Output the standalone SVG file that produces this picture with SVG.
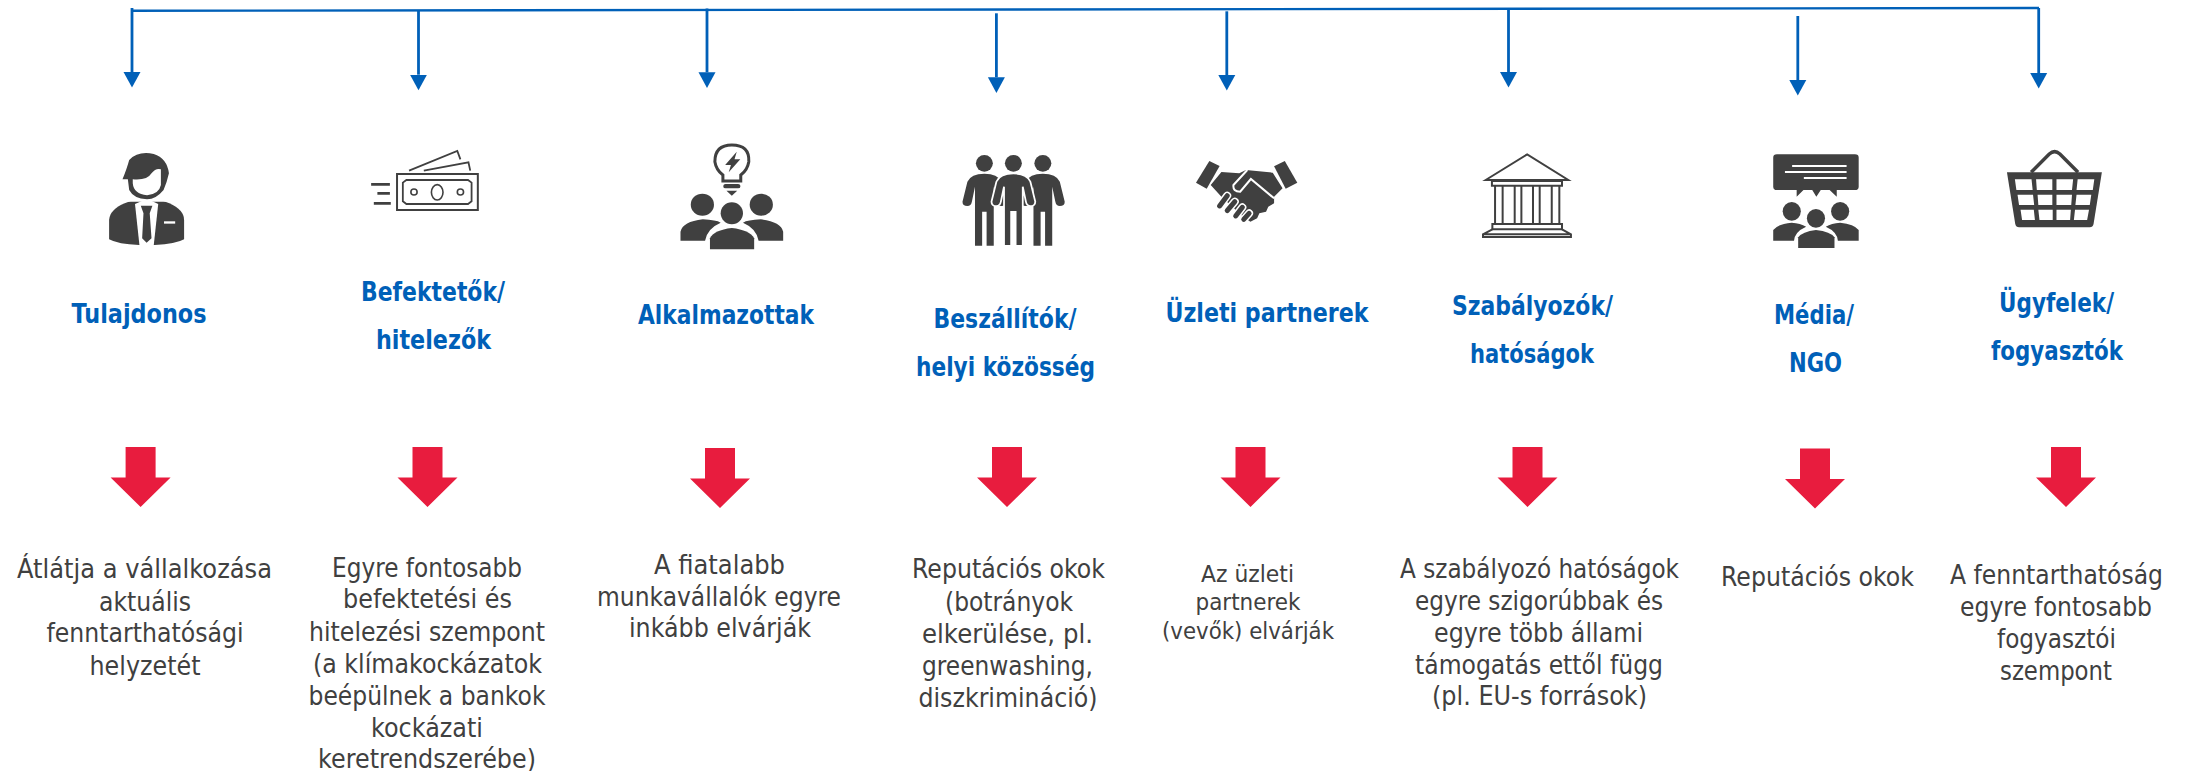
<svg xmlns="http://www.w3.org/2000/svg" xmlns:xlink="http://www.w3.org/1999/xlink" width="2193" height="771" viewBox="0 0 2193 771">
<style>
text{font-family:"DejaVu Sans","Liberation Sans",sans-serif;text-anchor:middle}
.d{font-size:26px;fill:#404040}
.s{font-size:23px}
.l{font-size:26px;font-weight:700;fill:#0060B8}
.c{stroke:#0060B8;stroke-width:2.8;fill:none;marker-end:url(#h)}
.i{fill:#404040}
.o{fill:none;stroke:#404040;stroke-width:2.4;vector-effect:non-scaling-stroke}
.w{fill:#fff}
.ws{fill:none;stroke:#fff;stroke-width:2;vector-effect:non-scaling-stroke}
.r{fill:#E81C3E}
</style>
<defs>
<marker id="h" markerUnits="userSpaceOnUse" markerWidth="17" markerHeight="18" refX="0" refY="9" orient="auto"><path d="M0 0.500L15.600 9L0 17.500Z" fill="#0060B8"/></marker>
<path id="ra" d="M-15 0H15V30.500H30L0 60L-30 30.500H-15Z"/>
<path id="fig" d="M0 521Q30 521 38 545L49 605Q49 618 38 618Q30 618 28 605L21 560V737H5V635H-5V737H-21V560L-28 605Q-30 618-38 618Q-49 618-49 605L-38 545Q-30 521 0 521Z"/>
</defs>
<rect width="2193" height="771" fill="#fff"/>
<g id="connectors">
<path d="M131 10.800L2039 8" fill="none" stroke="#0060B8" stroke-width="2.400"/>
<path class="c" d="M132 8V72"/>
<path class="c" d="M418.500 10V74.700"/>
<path class="c" d="M707 8.500V72.300"/>
<path class="c" d="M996.400 13.300V77.300"/>
<path class="c" d="M1226.800 11.300V75"/>
<path class="c" d="M1508.500 8.300V72"/>
<path class="c" d="M1797.800 16V80"/>
<path class="c" d="M2038.700 8V73"/>
</g>
<g id="tulajdonos">
<g transform="translate(60 0) scale(.4464 .3333)">
<path class="i" d="M110 660Q112 628 145 610L172 596H218L245 610Q278 630 278 660V718Q260 732 212 735H177Q130 733 110 718Z"/>
<path class="w" d="M168 612L178 736H210L220 612L195 596Z"/>
<path class="i" d="M181 617H207L201 640L205 715L194 728L184 715L187 640Z"/>
<rect class="w" x="233" y="664" width="25" height="7"/>
<path class="w" d="M150 590H240V605H150Z"/>
<path class="i" d="M140 538Q150 505 155 480Q175 452 210 462Q240 475 244 520Q240 545 232 570Q215 598 195 598Q165 596 155 570L152 538Z"/>
<path class="w" d="M163 538Q195 542 205 520Q215 503 226 508V555Q222 582 195 586Q165 582 163 550Z"/>
</g>
<text class="l" x="139" y="323" textLength="135" lengthAdjust="spacingAndGlyphs">Tulajdonos</text>
<use xlink:href="#ra" class="r" transform="translate(140.600 447)"/>
<text class="d" x="144.500" y="578" textLength="255" lengthAdjust="spacingAndGlyphs">Átlátja a vállalkozása</text>
<text class="d" x="145" y="611" textLength="92" lengthAdjust="spacingAndGlyphs">aktuális</text>
<text class="d" x="145" y="642" textLength="197" lengthAdjust="spacingAndGlyphs">fenntarthatósági</text>
<text class="d" x="145" y="675" textLength="111" lengthAdjust="spacingAndGlyphs">helyzetét</text>
</g>
<g id="befektetok">
<g transform="translate(60 0) scale(.4464 .3333)">
<rect class="o" x="755" y="522" width="181" height="108" style="stroke-width:2"/>
<path class="o" d="M776 540H914L922 548V604L914 612H776L768 604V548Z" style="stroke-width:1.800"/>
<ellipse class="o" cx="845" cy="577" rx="13" ry="23" style="stroke-width:1.600"/>
<ellipse class="o" cx="793" cy="576" rx="7" ry="9" style="stroke-width:1.600"/>
<ellipse class="o" cx="897" cy="576" rx="7" ry="9" style="stroke-width:1.600"/>
<path class="o" d="M782 512L890 453L897 478M815 512L915 487L919 512" style="stroke-width:1.800"/>
<path class="i" d="M697 549H739V557H697ZM711 576H739V584H711ZM703 606H741V614H703Z"/>
</g>
<text class="l" x="433" y="301" textLength="144" lengthAdjust="spacingAndGlyphs">Befektetők/</text>
<text class="l" x="433.500" y="349" textLength="115" lengthAdjust="spacingAndGlyphs">hitelezők</text>
<use xlink:href="#ra" class="r" transform="translate(427.500 447)"/>
<text class="d" x="427" y="577" textLength="190" lengthAdjust="spacingAndGlyphs">Egyre fontosabb</text>
<text class="d" x="427.500" y="608" textLength="169" lengthAdjust="spacingAndGlyphs">befektetési és</text>
<text class="d" x="427" y="641" textLength="236" lengthAdjust="spacingAndGlyphs">hitelezési szempont</text>
<text class="d" x="427.500" y="673" textLength="229" lengthAdjust="spacingAndGlyphs">(a klímakockázatok</text>
<text class="d" x="427" y="705" textLength="237" lengthAdjust="spacingAndGlyphs">beépülnek a bankok</text>
<text class="d" x="427" y="737" textLength="112" lengthAdjust="spacingAndGlyphs">kockázati</text>
<text class="d" x="427" y="768" textLength="218" lengthAdjust="spacingAndGlyphs">keretrendszerébe)</text>
</g>
<g id="alkalmazottak">
<g transform="translate(60 0) scale(.4464 .3333)">
<path class="o" d="M1505 435Q1545 435 1543 485Q1540 510 1525 525V543H1485V525Q1470 510 1467 485Q1467 435 1505 435Z" style="stroke-width:3"/>
<path class="i" d="M1516 455L1490 495H1503L1498 517L1524 478H1511Z"/>
<rect class="i" x="1486" y="552" width="38" height="13" rx="5"/>
<path class="i" d="M1493 572H1517L1505 587Z"/>
<ellipse class="i" cx="1439" cy="614" rx="26" ry="33"/>
<ellipse class="i" cx="1571" cy="614" rx="26" ry="33"/>
<ellipse class="i" cx="1505" cy="640" rx="25" ry="33"/>
<path class="i" d="M1390 722V695Q1395 665 1440 658Q1470 660 1480 668Q1450 685 1445 722Z"/>
<path class="i" d="M1620 722V695Q1615 665 1570 658Q1540 660 1530 668Q1560 685 1565 722Z"/>
<path class="i" d="M1456 748V715Q1465 690 1505 684Q1545 690 1555 715V748Z"/>
</g>
<text class="l" x="726" y="324" textLength="176" lengthAdjust="spacingAndGlyphs">Alkalmazottak</text>
<use xlink:href="#ra" class="r" transform="translate(720 448)"/>
<text class="d" x="719.500" y="574" textLength="131" lengthAdjust="spacingAndGlyphs">A fiatalabb</text>
<text class="d" x="719" y="606" textLength="244" lengthAdjust="spacingAndGlyphs">munkavállalók egyre</text>
<text class="d" x="720" y="637" textLength="182" lengthAdjust="spacingAndGlyphs">inkább elvárják</text>
</g>
<g id="beszallitok">
<g transform="translate(900 0) scale(.4464 .3333)">
<ellipse class="i" cx="189" cy="490" rx="19" ry="25"/>
<ellipse class="i" cx="254" cy="490" rx="19" ry="25"/>
<ellipse class="i" cx="320" cy="490" rx="19" ry="25"/>
<use xlink:href="#fig" class="i" x="189"/>
<use xlink:href="#fig" class="i" x="320"/>
<use xlink:href="#fig" x="254" fill="#404040" stroke="#fff" stroke-width="4"/>
</g>
<text class="l" x="1005" y="328" textLength="143" lengthAdjust="spacingAndGlyphs">Beszállítók/</text>
<text class="l" x="1005.500" y="376" textLength="179" lengthAdjust="spacingAndGlyphs">helyi közösség</text>
<use xlink:href="#ra" class="r" transform="translate(1007 447)"/>
<text class="d" x="1008.500" y="578" textLength="193" lengthAdjust="spacingAndGlyphs">Reputációs okok</text>
<text class="d" x="1009" y="611" textLength="128" lengthAdjust="spacingAndGlyphs">(botrányok</text>
<text class="d" x="1007.500" y="643" textLength="171" lengthAdjust="spacingAndGlyphs">elkerülése, pl.</text>
<text class="d" x="1007.500" y="675" textLength="171" lengthAdjust="spacingAndGlyphs">greenwashing,</text>
<text class="d" x="1008" y="707" textLength="179" lengthAdjust="spacingAndGlyphs">diszkrimináció)</text>
</g>
<g id="uzleti-partnerek">
<g transform="translate(900 0) scale(.4464 .3333)">
<path class="i" d="M693 483L716 498L687 566L663 548Z"/>
<path class="i" d="M862 483L890 548L864 566L838 499Z"/>
<path class="i" d="M720 516L760 520L775 510L835 518L857 565L838 590V610L825 620L820 635L805 640L800 655L785 665L770 652L740 615L720 590L696 555Z"/>
<path class="ws" d="M778 510L747 555Q745 575 762 575L786 537L838 595"/>
<path d="M733 587L716 618M750 605L733 632M767 622L752 648M782 640L770 658" fill="none" stroke="#fff" stroke-width="8" stroke-linecap="round" style="vector-effect:non-scaling-stroke"/>
<path d="M733 587L716 618M750 605L733 632M767 622L752 648M782 640L770 658" fill="none" stroke="#404040" stroke-width="5" stroke-linecap="round" style="vector-effect:non-scaling-stroke"/>
</g>
<text class="l" x="1267" y="322" textLength="203" lengthAdjust="spacingAndGlyphs">Üzleti partnerek</text>
<use xlink:href="#ra" class="r" transform="translate(1250.500 447)"/>
<text class="d s" x="1247.500" y="582" textLength="93" lengthAdjust="spacingAndGlyphs">Az üzleti</text>
<text class="d s" x="1248" y="610" textLength="105" lengthAdjust="spacingAndGlyphs">partnerek</text>
<text class="d s" x="1248" y="639" textLength="172" lengthAdjust="spacingAndGlyphs">(vevők) elvárják</text>
</g>
<g id="szabalyozok">
<g transform="translate(900 0) scale(.4464 .3333)">
<path class="o" d="M1312 540L1405 463L1497 540Z" style="stroke-width:2"/>
<rect class="o" x="1326" y="543" width="157" height="14" style="stroke-width:2"/>
<path class="o" d="M1333 557V672M1350 557V672M1377 557V672M1392 557V672M1418 557V672M1433 557V672M1460 557V672M1477 557V672" style="stroke-width:2"/>
<rect class="o" x="1327" y="672" width="156" height="16" style="stroke-width:2"/>
<path class="o" d="M1327 688L1306 703V711H1503V703L1483 688M1306 703H1503" style="stroke-width:2"/>
</g>
<text class="l" x="1532.500" y="315" textLength="161" lengthAdjust="spacingAndGlyphs">Szabályozók/</text>
<text class="l" x="1532" y="363" textLength="124" lengthAdjust="spacingAndGlyphs">hatóságok</text>
<use xlink:href="#ra" class="r" transform="translate(1527.500 447)"/>
<text class="d" x="1539.500" y="578" textLength="279" lengthAdjust="spacingAndGlyphs">A szabályozó hatóságok</text>
<text class="d" x="1539" y="610" textLength="248" lengthAdjust="spacingAndGlyphs">egyre szigorúbbak és</text>
<text class="d" x="1538.500" y="642" textLength="209" lengthAdjust="spacingAndGlyphs">egyre több állami</text>
<text class="d" x="1539" y="674" textLength="248" lengthAdjust="spacingAndGlyphs">támogatás ettől függ</text>
<text class="d" x="1539.500" y="705" textLength="215" lengthAdjust="spacingAndGlyphs">(pl. EU-s források)</text>
</g>
<g id="media">
<g transform="translate(1600 0) scale(.3782 .3333)">
<rect class="i" x="458" y="463" width="226" height="107" rx="10"/>
<path class="w" d="M508 495H652V501H508ZM489 513H652V519H489ZM539 531H652V537H539Z"/>
<path class="i" d="M520 568V590L540 568ZM560 568L572 590L585 568ZM605 568L626 590V568Z"/>
<ellipse class="i" cx="507" cy="634" rx="24" ry="28"/>
<ellipse class="i" cx="635" cy="634" rx="24" ry="28"/>
<ellipse class="i" cx="571" cy="655" rx="24" ry="28"/>
<path class="i" d="M458 722V690Q470 672 507 668Q530 670 545 680Q515 695 513 722Z"/>
<path class="i" d="M684 722V690Q672 672 635 668Q612 670 597 680Q627 695 629 722Z"/>
<path class="i" d="M524 744V712Q535 695 571 690Q610 695 620 712V744Z"/>
</g>
<text class="l" x="1814" y="324" textLength="80" lengthAdjust="spacingAndGlyphs">Média/</text>
<text class="l" x="1815.500" y="372" textLength="53" lengthAdjust="spacingAndGlyphs">NGO</text>
<use xlink:href="#ra" class="r" transform="translate(1815 448.500)"/>
<text class="d" x="1817.500" y="586" textLength="193" lengthAdjust="spacingAndGlyphs">Reputációs okok</text>
</g>
<g id="ugyfelek">
<g transform="translate(1600 0) scale(.3782 .3333)">
<path class="i" d="M1076 517H1327L1305 672Q1303 682 1295 682H1108Q1100 682 1098 672Z"/>
<path class="o" d="M1140 517L1188 462Q1202 448 1216 462L1264 517" style="stroke-width:3.500"/>
<path class="w" d="M1097 538H1141L1144 570H1101ZM1153 538H1196V570H1155ZM1207 538H1251L1248 570H1207ZM1263 538H1307L1303 570H1260ZM1104 584H1145L1148 615H1108ZM1157 584H1196V615H1159ZM1207 584H1248L1246 615H1207ZM1260 584H1299L1295 615H1257ZM1112 629H1147L1150 660H1116ZM1159 629H1197V660H1162ZM1207 629H1245L1243 660H1207ZM1256 629H1293L1288 660H1253Z"/>
</g>
<text class="l" x="2056.500" y="312" textLength="115" lengthAdjust="spacingAndGlyphs">Ügyfelek/</text>
<text class="l" x="2057" y="360" textLength="132" lengthAdjust="spacingAndGlyphs">fogyasztók</text>
<use xlink:href="#ra" class="r" transform="translate(2066 447)"/>
<text class="d" x="2056.500" y="584" textLength="213" lengthAdjust="spacingAndGlyphs">A fenntarthatóság</text>
<text class="d" x="2056" y="616" textLength="192" lengthAdjust="spacingAndGlyphs">egyre fontosabb</text>
<text class="d" x="2056.500" y="648" textLength="119" lengthAdjust="spacingAndGlyphs">fogyasztói</text>
<text class="d" x="2056" y="680" textLength="112" lengthAdjust="spacingAndGlyphs">szempont</text>
</g>
</svg>
